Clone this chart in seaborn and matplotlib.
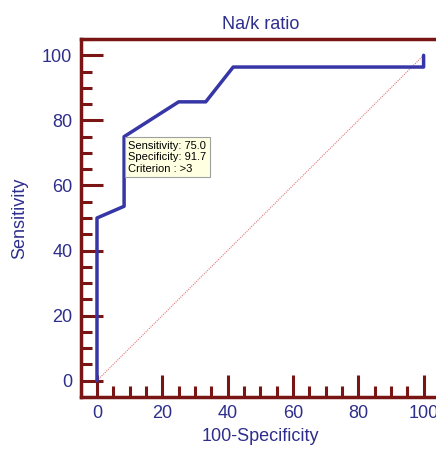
import numpy as np
import pandas as pd
import matplotlib
matplotlib.use('Agg')
import matplotlib.pyplot as plt
import seaborn as sns
from matplotlib.ticker import MultipleLocator

# ROC points (100-Specificity, Sensitivity)
fpr = [0, 0, 8.3, 8.3, 25.0, 33.3, 41.7, 100, 100]
sensitivity = [0, 50.0, 53.6, 75.0, 85.7, 85.7, 96.4, 96.4, 100]
diag = [0, 100]

# chosen cut-off
best_fpr = 8.3
best_sens = 75.0
tip_lines = ['Sensitivity: 75.0', 'Specificity: 91.7', 'Criterion : >3']

title = 'Na/k ratio'
xlabel = '100-Specificity'
ylabel = 'Sensitivity'

sns.set_style('white')
plt.rcParams['font.family'] = ['Liberation Sans', 'DejaVu Sans']

navy = '#2e2e8c'
maroon = '#7a1515'

roc = pd.DataFrame({'fpr': fpr, 'sens': sensitivity})
ref = pd.DataFrame({'x': diag, 'y': diag})

fig = plt.figure(figsize=(4.36, 4.49), dpi=100)
ax = fig.add_axes([0.185, 0.116, 0.824, 0.797])

# reference line
sns.lineplot(data=ref, x='x', y='y', ax=ax, color='#e07a7a',
             linewidth=0.8, linestyle=(0, (1, 1)))
# roc curve
sns.lineplot(data=roc, x='fpr', y='sens', ax=ax, sort=False, estimator=None,
             color='#3636a6', linewidth=2.5)

ax.set_xlim(-5, 105)
ax.set_ylim(-5, 105)
ax.xaxis.set_major_locator(MultipleLocator(20))
ax.xaxis.set_minor_locator(MultipleLocator(5))
ax.yaxis.set_major_locator(MultipleLocator(20))
ax.yaxis.set_minor_locator(MultipleLocator(5))

# seaborn white style switches the ticks off, turn them back on
ax.tick_params(which='both', bottom=True, left=True, top=False, right=False,
               direction='in', color=maroon, width=2.2,
               labelcolor=navy, labelsize=13, pad=6)
ax.tick_params(which='major', length=16)
ax.tick_params(which='minor', length=8)

for side in ['left', 'bottom', 'top']:
    ax.spines[side].set_color(maroon)
    ax.spines[side].set_linewidth(2.5)
ax.spines['right'].set_visible(False)

ax.set_title(title, color=navy, fontsize=13, pad=7)
ax.set_xlabel(xlabel, color=navy, fontsize=13, labelpad=4)
ax.set_ylabel(ylabel, color=navy, fontsize=13, labelpad=10)

ax.annotate('\n'.join(tip_lines), xy=(best_fpr, best_sens), xytext=(3, -3),
            textcoords='offset points', ha='left', va='top', fontsize=8,
            color='black', linespacing=1.2,
            bbox=dict(boxstyle='square,pad=0.3', fc='#ffffe1', ec='#a0a0a0', lw=0.8))

fig.savefig('out.png', dpi=100)
